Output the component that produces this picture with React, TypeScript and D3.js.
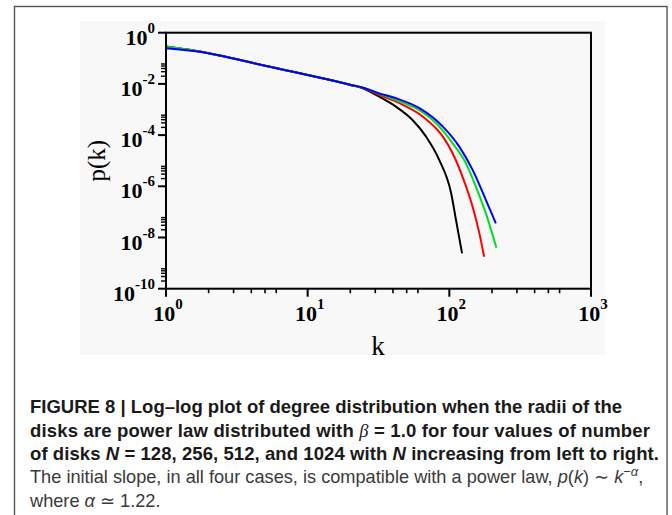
import React from "react";
import * as d3 from "d3";

const W = 672,
  H = 515;

// degree k and log10 p(k), one pair of arrays per N
const kN128 = [1, 2, 3, 5, 7, 10, 15, 20, 24.5, 32, 42, 55, 68.5, 85, 103, 111.5, 123];
const lpN128 = [-0.54, -0.8, -1.01, -1.29, -1.47, -1.65, -1.87, -2.04, -2.17, -2.5, -2.89, -3.41, -4.06, -4.98, -6.27, -7.32, -8.62];

const kN256 = [1, 2, 3, 5, 7, 10, 15, 20, 25, 32, 47, 65, 90, 105.5, 124, 146, 163, 176];
const lpN256 = [-0.54, -0.8, -1.01, -1.29, -1.47, -1.65, -1.87, -2.03, -2.17, -2.43, -2.82, -3.28, -4.06, -4.71, -5.63, -6.8, -7.84, -8.75];

const kN512 = [1, 2, 3, 5, 7, 10, 15, 20, 25, 32, 42, 58, 80.6, 105.5, 131, 154, 181, 215];
const lpN512 = [-0.54, -0.8, -1.01, -1.29, -1.47, -1.65, -1.87, -2.03, -2.16, -2.38, -2.63, -2.95, -3.54, -4.32, -5.1, -6.02, -7.05, -8.4];

const kN1024 = [1, 2, 3, 5, 7, 10, 15, 20, 25, 32, 42, 61.5, 90, 117.5, 146, 181, 213];
const lpN1024 = [-0.61, -0.8, -1.01, -1.29, -1.47, -1.65, -1.87, -2.03, -2.16, -2.37, -2.56, -2.95, -3.67, -4.45, -5.36, -6.53, -7.45];

const seriesColors = ["#000000", "#ff0000", "#00e01a", "#0000ff"];

const xTickValues = [1, 10, 100, 1000];
const xTickExps = ["0", "1", "2", "3"];
const yTickValues = [1, 1e-2, 1e-4, 1e-6, 1e-8, 1e-10];
const yTickExps = ["0", "-2", "-4", "-6", "-8", "-10"];
const minorMult = [2, 3, 4, 5, 6];

const plot = { left: 166, right: 591, top: 32.7, bottom: 288.7 };

function App() {
  const x = d3.scaleLog().domain([1, 1000]).range([plot.left, plot.right]);
  const y = d3.scaleLog().domain([1e-10, 1]).range([plot.bottom, plot.top]);

  const series = [
    { k: kN128, lp: lpN128 },
    { k: kN256, lp: lpN256 },
    { k: kN512, lp: lpN512 },
    { k: kN1024, lp: lpN1024 },
  ];

  const line = d3
    .line<[number, number]>()
    .x((d) => x(d[0]))
    .y((d) => y(Math.pow(10, d[1])))
    .curve(d3.curveMonotoneX);

  const xMinor = xTickValues.slice(0, -1).flatMap((b) => minorMult.map((m) => b * m));
  const yMinor = yTickValues.slice(1).flatMap((b) => minorMult.map((m) => b * m));

  const serif = "'Liberation Serif', 'Times New Roman', serif";
  const sans = "'Liberation Sans', Arial, Helvetica, sans-serif";

  return (
    <svg
      width={W}
      height={H}
      style={{ position: "absolute", left: 0, top: 0 }}
      fontFamily={sans}
    >
      <rect x={0} y={0} width={W} height={H} fill="#ffffff" />
      {/* figure frame */}
      <rect x={14.5} y={6.5} width={652.5} height={530} fill="none" stroke="#555" strokeWidth={1.4} />
      {/* panel background */}
      <rect x={80} y={21} width={525} height={334} fill="#f8f8f8" />

      {/* curves */}
      {series.map((s, i) => (
        <path
          key={i}
          d={line(s.k.map((k, j) => [k, s.lp[j]] as [number, number])) || ""}
          fill="none"
          stroke={seriesColors[i]}
          strokeWidth={2}
          strokeLinejoin="round"
        />
      ))}

      {/* axes box */}
      <rect
        x={plot.left}
        y={plot.top}
        width={plot.right - plot.left}
        height={plot.bottom - plot.top}
        fill="none"
        stroke="#000"
        strokeWidth={2}
      />

      {/* x ticks */}
      {xTickValues.map((v) => (
        <line key={"xm" + v} x1={x(v)} x2={x(v)} y1={plot.bottom} y2={plot.bottom + 8} stroke="#000" strokeWidth={2} />
      ))}
      {xMinor.map((v) => (
        <line key={"xn" + v} x1={x(v)} x2={x(v)} y1={plot.bottom} y2={plot.bottom + 4.5} stroke="#000" strokeWidth={1.6} />
      ))}
      {xTickValues.map((v, i) => (
        <text key={"xl" + v} x={x(v) + 2} y={321} textAnchor="middle" fontFamily={serif} fontWeight="bold" fontSize={22} fill="#000">
          10
          <tspan dy={-12} fontSize={15}>
            {xTickExps[i]}
          </tspan>
        </text>
      ))}

      {/* y ticks */}
      {yTickValues.map((v) => (
        <line key={"ym" + v} x1={plot.left - 8} x2={plot.left} y1={y(v)} y2={y(v)} stroke="#000" strokeWidth={2} />
      ))}
      {yMinor.map((v) => (
        <line key={"yn" + v} x1={plot.left - 5} x2={plot.left} y1={y(v)} y2={y(v)} stroke="#000" strokeWidth={1.4} />
      ))}
      {yTickValues.map((v, i) => (
        <text key={"yl" + v} x={155} y={y(v) + 12} textAnchor="end" fontFamily={serif} fontWeight="bold" fontSize={22} fill="#000">
          10
          <tspan dy={-12} fontSize={15}>
            {yTickExps[i]}
          </tspan>
        </text>
      ))}

      {/* axis titles */}
      <text x={378} y={355} textAnchor="middle" fontFamily={serif} fontSize={27} fill="#000">
        k
      </text>
      <text
        transform={`translate(105, ${(plot.top + plot.bottom) / 2}) rotate(-90)`}
        textAnchor="middle"
        fontFamily={serif}
        fontSize={25}
        fill="#000"
      >
        p(k)
      </text>

      {/* caption */}
      <g fontSize={18.5}>
        <text x={30} y={413.3} fontWeight="bold" fill="#1a1a1a">
          FIGURE 8 | Log–log plot of degree distribution when the radii of the
        </text>
        <text x={30} y={436.6} fontWeight="bold" fill="#1a1a1a" textLength={620} lengthAdjust="spacing">
          disks are power law distributed with <tspan fontStyle="italic" fontWeight="normal" fontFamily={serif}>β</tspan> = 1.0 for four values of number
        </text>
        <text x={30} y={459.9} fontWeight="bold" fill="#1a1a1a" textLength={629} lengthAdjust="spacing">
          of disks <tspan fontStyle="italic">N</tspan> = 128, 256, 512, and 1024 with <tspan fontStyle="italic">N</tspan> increasing from left to right.
        </text>
        <text x={30} y={483.2} fill="#3a3a3a" fontSize={18.2}>
          The initial slope, in all four cases, is compatible with a power law, <tspan fontStyle="italic">p</tspan>(<tspan fontStyle="italic">k</tspan>) ∼ <tspan fontStyle="italic">k</tspan>
          <tspan dy={-7} fontSize={13}>−<tspan fontStyle="italic">α</tspan></tspan>
          <tspan dy={7}>,</tspan>
        </text>
        <text x={30} y={506.5} fill="#3a3a3a" fontSize={18.2}>
          where <tspan fontStyle="italic">α</tspan> ≃ 1.22.
        </text>
      </g>
    </svg>
  );
}

export default App;
